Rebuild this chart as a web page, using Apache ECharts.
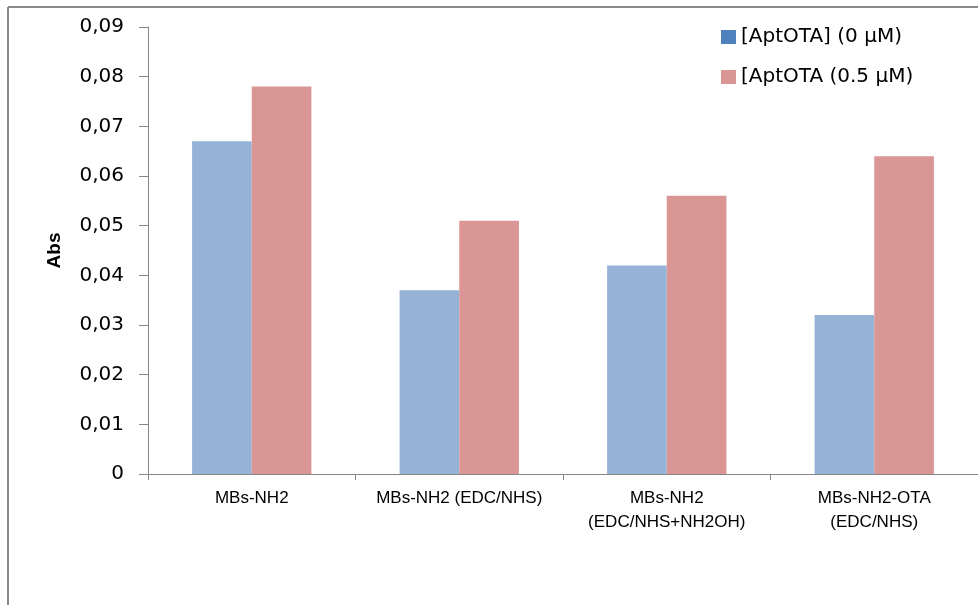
<!DOCTYPE html>
<html>
<head>
<meta charset="utf-8">
<script src="https://cdn.jsdelivr.net/npm/echarts@6/dist/echarts.min.js"></script>
<style>
html,body{margin:0;padding:0;background:#fff;}
#chart{width:978px;height:605px;}
</style>
</head>
<body>
<div id="chart"></div>
<script>
var categories = ['MBs-NH2', 'MBs-NH2 (EDC/NHS)', 'MBs-NH2\n(EDC/NHS+NH2OH)', 'MBs-NH2-OTA\n(EDC/NHS)'];
var seriesNames = ['[AptOTA] (0 \u03bcM)', '[AptOTA (0.5 \u03bcM)'];
var apt0 = [0.067, 0.037, 0.042, 0.032];
var apt05 = [0.078, 0.051, 0.056, 0.064];
var yTickLabels = ['0', '0,01', '0,02', '0,03', '0,04', '0,05', '0,06', '0,07', '0,08', '0,09'];

var chart = echarts.init(document.getElementById('chart'));
chart.setOption({
  animation: false,
  backgroundColor: '#fff',
  graphic: [
    {type: 'line', shape: {x1: 8, y1: 7, x2: 978, y2: 7}, style: {stroke: '#8a8a8a', lineWidth: 2}},
    {type: 'line', shape: {x1: 8, y1: 7, x2: 8, y2: 605}, style: {stroke: '#8a8a8a', lineWidth: 2}}
  ],
  legend: {
    orient: 'vertical',
    left: 716,
    top: 21,
    icon: 'rect',
    itemWidth: 15,
    itemHeight: 14,
    itemGap: 18,
    textStyle: {fontFamily: 'DejaVu Sans', fontSize: 20, color: '#000', lineHeight: 22},
    data: [
      {name: seriesNames[0], itemStyle: {color: '#4F81BD'}},
      {name: seriesNames[1], itemStyle: {color: '#D99694'}}
    ]
  },
  grid: {left: 148, top: 27, width: 836, height: 447, containLabel: false},
  xAxis: {
    type: 'category',
    data: categories,
    axisLine: {lineStyle: {color: '#868686', width: 1}},
    axisTick: {show: true, length: 6, lineStyle: {color: '#868686'}},
    axisLabel: {
      fontFamily: 'Liberation Sans', fontSize: 17, color: '#000',
      margin: 12, lineHeight: 24, interval: 0
    }
  },
  yAxis: {
    type: 'value',
    min: 0,
    max: 0.09,
    interval: 0.01,
    name: 'Abs',
    nameLocation: 'middle',
    nameGap: 84,
    nameTextStyle: {fontFamily: 'Liberation Sans', fontWeight: 'bold', fontSize: 19, color: '#000'},
    splitLine: {show: false},
    axisLine: {show: true, lineStyle: {color: '#868686', width: 1}},
    axisTick: {show: true, inside: false, length: 9, lineStyle: {color: '#868686'}},
    axisLabel: {
      fontFamily: 'DejaVu Sans', fontSize: 20, color: '#000', margin: 24,
      formatter: function (v) {
        return yTickLabels[Math.round(v * 100)];
      }
    }
  },
  series: [
    {name: seriesNames[0], type: 'bar', data: apt0, barGap: '0%', barCategoryGap: '42.5%',
     itemStyle: {color: '#95B3D7'}},
    {name: seriesNames[1], type: 'bar', data: apt05, barGap: '0%', barCategoryGap: '42.5%',
     itemStyle: {color: '#D99694'}}
  ]
});
</script>
</body>
</html>
